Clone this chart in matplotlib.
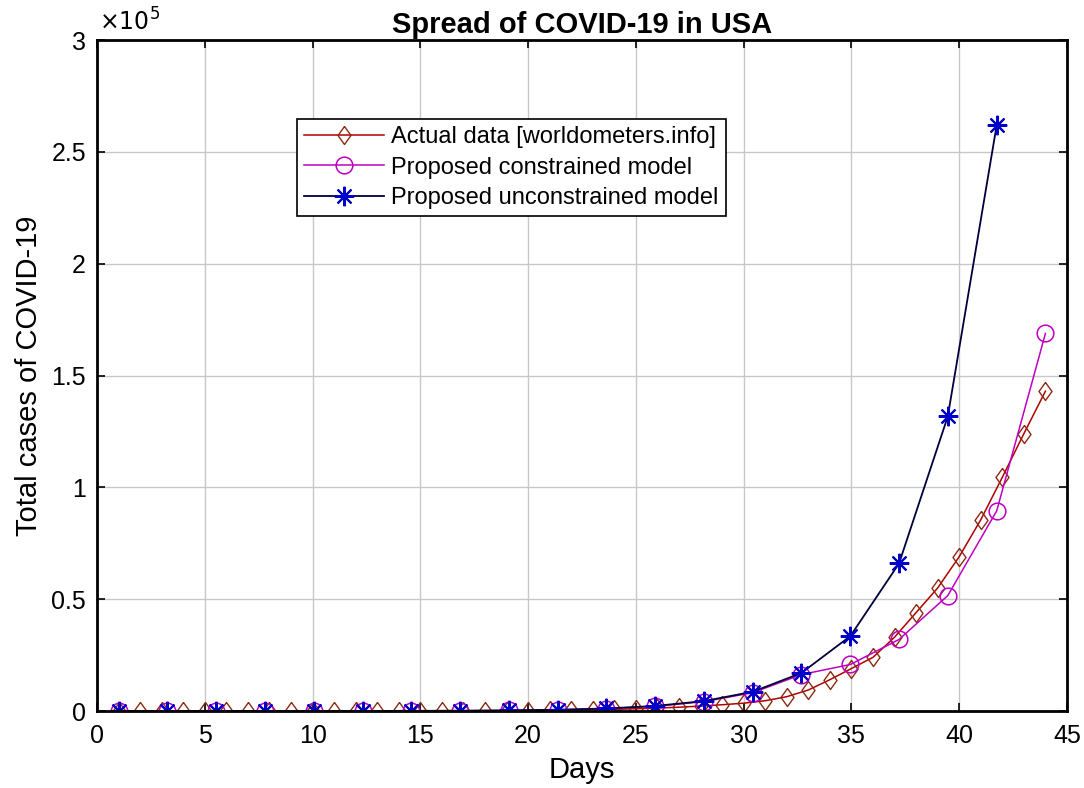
import matplotlib.pyplot as plt
from matplotlib.ticker import FuncFormatter

plt.rcParams['font.family'] = ['Liberation Sans', 'DejaVu Sans']

# actual daily totals, day 1..44
days_actual = list(range(1, 45))
cases_actual = [15, 15, 15, 15, 15, 15, 15, 15, 15, 15,
                15, 35, 35, 53, 57, 60, 68, 100, 150, 220,
                320, 450, 580, 760, 1000, 1300, 1700, 2200, 2800, 3500,
                4600, 6400, 9400, 14000, 19000, 24000, 33000, 44000, 55000, 69000,
                85500, 104500, 124000, 143000]

# model evaluation points
days_model = [1.0, 3.26, 5.53, 7.79, 10.05, 12.32, 14.58, 16.84, 19.1, 21.37,
              23.63, 25.89, 28.16, 30.42, 32.68, 34.95, 37.21, 39.47, 41.74, 44.0]
cases_constrained = [1, 2, 4, 8, 16, 32, 65, 130, 260, 520,
                     1050, 2100, 4200, 8200, 16300, 20800, 32000, 51600, 89500, 168800]
cases_unconstrained = [1, 2, 4, 9, 18, 36, 72, 145, 290, 570,
                       1130, 2250, 4450, 8600, 17000, 33500, 66000, 131700, 262000]

diamond = [(0, 1), (0.72, 0), (0, -1), (-0.72, 0), (0, 1)]

fig = plt.figure(figsize=(10.84, 7.88), dpi=100)
ax = fig.add_axes([0.0895, 0.0977, 0.8948, 0.8515])

ax.plot(days_actual, cases_actual, color='#b00000', lw=1.1, marker=diamond,
        ms=13, mfc='none', mec='#8b2a10', mew=1.0,
        label='Actual data [worldometers.info]')
ax.plot(days_model, cases_constrained, color='#c000c0', lw=1.1, marker='o',
        ms=12, mfc='none', mec='#c000c0', mew=1.1,
        label='Proposed constrained model')
ax.plot(days_model[:len(cases_unconstrained)], cases_unconstrained,
        color='#00003a', lw=1.3, marker=(8, 2, 0), ms=14, mec='#0000c8',
        mew=1.5, label='Proposed unconstrained model')

ax.set_xlim(0, 45)
ax.set_ylim(0, 3e5)
ax.set_xticks(range(0, 46, 5))
ax.set_yticks([0, 0.5e5, 1e5, 1.5e5, 2e5, 2.5e5, 3e5])
ax.yaxis.set_major_formatter(FuncFormatter(lambda v, _: f'{v / 1e5:g}'))
ax.tick_params(direction='in', top=True, right=True, labelsize=18,
               length=6, width=1.2)
ax.tick_params(axis='x', pad=9)
ax.tick_params(axis='y', pad=8)
ax.grid(True, color='#c8c8c8', lw=1.0)
for s in ax.spines.values():
    s.set_linewidth(2.0)

ax.text(0.002, 1.006, r'$\times10^5$', transform=ax.transAxes, fontsize=17,
        ha='left', va='bottom')
ax.set_title('Spread of COVID-19 in USA', fontsize=21, fontweight='bold', pad=5)
ax.set_xlabel('Days', fontsize=21, labelpad=6)
ax.set_ylabel('Total cases of COVID-19', fontsize=21, labelpad=6)

leg = ax.legend(loc='upper left', bbox_to_anchor=(0.206, 0.882), fontsize=17,
                fancybox=False, edgecolor='black', framealpha=1,
                borderaxespad=0, handlelength=3.4, borderpad=0.3,
                labelspacing=0.35, handletextpad=0.3)
leg.get_frame().set_linewidth(1.2)

fig.savefig('out.png', dpi=100)
